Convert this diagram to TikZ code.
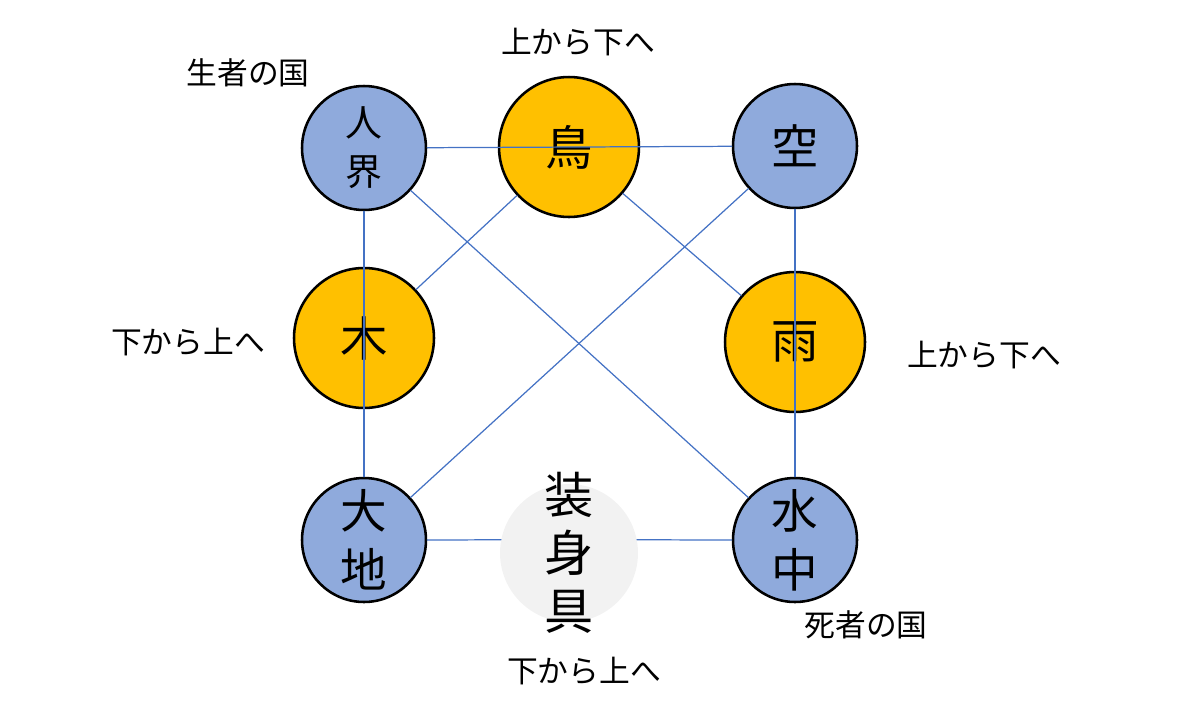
\documentclass[tikz,border=0pt]{standalone}
\usepackage{fontspec}
\setmainfont{Noto Sans CJK JP}
\usepackage{tikz}
\definecolor{realmblue}{HTML}{8FAADC}
\definecolor{messengerorange}{HTML}{FFC000}
\definecolor{ornamentgray}{HTML}{F2F2F2}
\definecolor{linkblue}{HTML}{4472C4}

\begin{document}
\begin{tikzpicture}
		[x=0.02cm,y=-0.02cm,line cap=round,
		%Styles
		realm/.style={circle,draw=black,line width=1.45pt,fill=realmblue,inner sep=0pt,minimum size=2.48cm,align=center},
		messenger/.style={circle,draw=black,line width=1.45pt,fill=messengerorange,inner sep=0pt,minimum size=2.8cm,font=\fontsize{27}{32}\selectfont},
		ornament/.style={circle,fill=ornamentgray,inner sep=0pt,minimum size=2.76cm},
		direction text/.style={font=\fontsize{17.5}{21}\selectfont},
		link/.style={linkblue,line width=0.7pt}
		]
		
		\useasboundingbox (0,0) rectangle (1200,724);
		
		%The graphic
		\node[messenger] (tori) at (569,147) {鳥};
		\node[messenger] (ki) at (364,338) {木};
		\node[messenger] (ame) at (795,342) {雨};
		
		\node[realm,font=\fontsize{21}{28}\selectfont] (jinkai) at (364,148) {人\\界};
		\node[realm,font=\fontsize{27}{32}\selectfont] (sora) at (795,146) {空};
		\node[realm,font=\fontsize{26.5}{33.5}\selectfont] (daichi) at (364,540) {大\\地};
		\node[realm,font=\fontsize{26.5}{33.5}\selectfont] (suichu) at (795,540) {水\\中};
		\node[ornament,label={[font=\fontsize{28}{33}\selectfont,align=center]center:装\\身\\具}] (soushin) at (569,553) {};
		
		\path[link]
			(jinkai) edge (sora)
				edge (daichi)
				edge (suichu)
			(tori) edge (ki)
				edge (ame)
			(sora) edge (daichi)
				edge (suichu)
			(daichi.east) edge (soushin.169)
			(soushin.11) edge (suichu.west);
		
		%Notes
		\node[direction text] (topnote) at (578,42) {上から下へ};
		\node[direction text] (living) at (248,73) {生者の国};
		\node[direction text] (leftnote) at (188,342) {下から上へ};
		\node[direction text] (rightnote) at (984,355) {上から下へ};
		\node[direction text] (dead) at (866,625) {死者の国};
		\node[direction text] (bottomnote) at (584,671) {下から上へ};
	\end{tikzpicture}
\end{document}
